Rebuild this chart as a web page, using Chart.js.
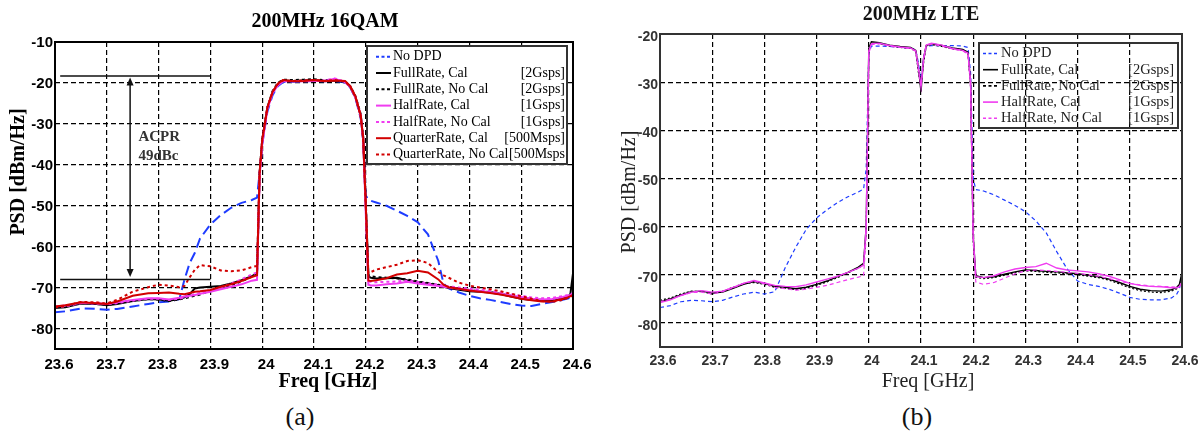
<!DOCTYPE html>
<html>
<head>
<meta charset="utf-8">
<script src="https://cdn.jsdelivr.net/npm/chart.js@4.4.0/dist/chart.umd.min.js"></script>
<style>
  body { margin: 0; background: #fff; width: 1203px; height: 441px; position: relative; overflow: hidden; }
  canvas { position: absolute; top: 0; }
  #chartA { left: 0; }
  #chartB { left: 600px; }
  .cap { position: absolute; top: 402px; width: 100px; text-align: center; font: 26px "Liberation Serif", serif; color: #111; }
</style>
</head>
<body>
<canvas id="chartA" width="600" height="400"></canvas>
<canvas id="chartB" width="603" height="400"></canvas>
<div class="cap" style="left:250px">(a)</div>
<div class="cap" style="left:867px">(b)</div>
<script>
// axes
const freqTicks = [23.6, 23.7, 23.8, 23.9, 24.0, 24.1, 24.2, 24.3, 24.4, 24.5, 24.6];
const freqTickLabels = ['23.6', '23.7', '23.8', '23.9', '24', '24.1', '24.2', '24.3', '24.4', '24.5', '24.6'];
const psdTicksA = [-80, -70, -60, -50, -40, -30, -20, -10];
const psdTicksB = [-80, -70, -60, -50, -40, -30, -20];

// (a) 200MHz 16QAM
const freqA = [
  23.60, 23.62, 23.65, 23.68, 23.70, 23.72, 23.75, 23.78, 23.80, 23.82,
  23.84, 23.85, 23.86, 23.87, 23.88, 23.90, 23.92, 23.94, 23.96, 23.98,
  23.99, 23.995, 24.00, 24.01, 24.02, 24.03, 24.04, 24.06, 24.08, 24.10,
  24.12, 24.14, 24.16, 24.17, 24.18, 24.19, 24.195, 24.20, 24.205, 24.21,
  24.22, 24.24, 24.26, 24.28, 24.30, 24.32, 24.34, 24.35, 24.36, 24.38,
  24.40, 24.42, 24.44, 24.46, 24.48, 24.50, 24.52, 24.54, 24.56, 24.58,
  24.59, 24.595, 24.60];
const noDpdA = [
  -76.0, -75.8, -75.1, -75.2, -75.4, -75.2, -74.6, -74.0, -73.6, -73.4,
  -72.8, -68.0, -64.0, -61.5, -58.0, -54.6, -52.3, -50.5, -49.3, -48.6,
  -48.0, -42.0, -35.0, -27.0, -23.0, -20.8, -19.8, -19.7, -19.6, -19.5,
  -19.6, -19.5, -19.9, -21.1, -23.7, -28.5, -34.0, -47.5, -48.5, -48.8,
  -49.2, -50.0, -51.2, -52.5, -54.0, -57.0, -63.5, -69.0, -70.2, -71.2,
  -72.0, -72.6, -73.0, -73.5, -74.0, -74.4, -74.5, -74.0, -73.5, -73.0,
  -72.7, -72.5, -72.4];
const fullCalA = [
  -75.0, -74.8, -73.9, -74.0, -74.3, -74.0, -73.3, -72.8, -72.9, -73.2,
  -72.8, -72.4, -71.6, -70.2, -70.0, -69.8, -69.6, -69.0, -68.2, -67.2,
  -66.6, -42.0, -34.0, -26.0, -22.3, -20.4, -19.4, -19.5, -19.4, -19.3,
  -19.5, -19.4, -19.8, -21.0, -23.5, -28.0, -34.0, -50.0, -67.3, -67.6,
  -67.8, -67.7, -67.6, -68.2, -68.6, -69.0, -69.4, -69.8, -70.1, -70.5,
  -70.9, -71.0, -71.2, -71.6, -72.2, -72.7, -73.0, -73.1, -73.2, -72.8,
  -72.4, -71.5, -66.5];
const fullNoCalA = [
  -74.7, -74.5, -73.8, -74.0, -74.2, -73.9, -73.3, -72.8, -72.9, -73.3,
  -72.9, -72.6, -72.3, -72.0, -71.7, -70.8, -70.2, -69.4, -68.5, -67.3,
  -66.5, -42.0, -34.0, -26.0, -22.0, -20.0, -19.2, -19.3, -19.2, -19.1,
  -19.3, -19.3, -19.7, -20.8, -23.2, -27.5, -33.0, -49.0, -67.0, -67.2,
  -67.4, -67.6, -67.8, -68.0, -68.5, -68.9, -69.3, -69.5, -69.8, -70.2,
  -70.6, -70.9, -71.1, -71.5, -72.0, -72.5, -72.8, -73.0, -73.0, -72.7,
  -72.3, -72.0, -71.8];
const halfCalA = [
  -74.6, -74.4, -73.7, -73.8, -74.0, -73.6, -73.0, -72.6, -72.6, -72.9,
  -72.5, -72.2, -72.0, -71.8, -71.5, -71.0, -70.4, -69.8, -69.2, -68.3,
  -68.1, -43.0, -35.0, -26.5, -22.5, -20.6, -19.6, -19.6, -19.6, -19.5,
  -19.5, -19.0, -19.8, -21.0, -23.6, -28.0, -34.0, -52.0, -69.3, -69.5,
  -69.5, -69.2, -69.0, -68.6, -69.0, -69.3, -69.6, -69.8, -70.0, -70.3,
  -70.6, -70.9, -71.2, -71.5, -71.9, -72.3, -72.7, -72.9, -72.8, -72.3,
  -72.0, -71.8, -71.6];
const halfNoCalA = [
  -74.8, -74.6, -73.8, -73.9, -74.1, -73.8, -73.2, -72.7, -72.7, -73.0,
  -72.7, -72.4, -72.0, -71.6, -71.3, -70.8, -70.0, -69.0, -68.0, -66.8,
  -66.3, -42.0, -34.0, -26.0, -22.2, -20.3, -19.5, -19.5, -19.5, -19.4,
  -19.4, -18.9, -19.7, -20.9, -23.4, -27.8, -33.5, -50.0, -68.5, -68.6,
  -68.7, -68.6, -68.5, -68.3, -68.6, -69.0, -69.3, -69.5, -69.7, -70.0,
  -70.2, -70.5, -70.8, -71.2, -71.6, -72.0, -72.4, -72.6, -72.5, -72.1,
  -71.8, -71.6, -71.4];
const quarterCalA = [
  -74.6, -74.3, -73.6, -73.8, -74.0, -73.4, -72.0, -71.4, -71.3, -71.2,
  -71.5, -71.6, -71.3, -71.0, -70.9, -70.6, -69.8, -69.2, -68.4, -67.4,
  -67.0, -42.0, -34.0, -26.0, -22.2, -20.2, -19.3, -19.6, -19.5, -19.3,
  -19.6, -19.4, -19.5, -20.8, -23.3, -27.8, -33.5, -50.0, -68.3, -68.4,
  -68.2, -67.7, -66.8, -66.5, -65.9, -66.3, -68.0, -69.3, -69.9, -70.3,
  -70.7, -71.0, -71.3, -71.7, -72.2, -72.7, -73.1, -73.4, -73.4, -72.8,
  -72.4, -72.1, -71.8];
const quarterNoCalA = [
  -74.8, -74.5, -73.5, -73.6, -73.9, -73.0, -71.0, -69.9, -69.3, -69.5,
  -69.9, -69.6, -67.5, -65.6, -64.5, -64.8, -65.8, -66.0, -65.8, -65.0,
  -64.7, -42.0, -34.0, -26.0, -22.2, -20.3, -19.4, -19.5, -19.4, -19.3,
  -19.5, -19.3, -19.6, -20.9, -23.4, -28.0, -33.5, -50.0, -66.5, -66.2,
  -65.6, -65.0, -64.4, -63.5, -63.3, -64.0, -66.2, -67.0, -67.6, -68.8,
  -69.5, -70.0, -70.4, -70.9, -71.5, -72.1, -72.7, -73.3, -73.5, -73.0,
  -72.5, -72.2, -71.9];
const legendNamesA = ['No DPD', 'FullRate, Cal', 'FullRate, No Cal', 'HalfRate, Cal', 'HalfRate, No Cal', 'QuarterRate, Cal', 'QuarterRate, No Cal'];
const legendRatesA = ['', '[2Gsps]', '[2Gsps]', '[1Gsps]', '[1Gsps]', '[500Msps]', '[500Msps'];
// ACPR marker: levels in dBm/Hz, span in GHz
const acprLevels = [-18.3, -68.0];
const acprSpan = [23.61, 23.90];
const acprArrowFreq = 23.745;

// (b) 200MHz LTE
const freqB = [
  23.60, 23.62, 23.64, 23.66, 23.68, 23.70, 23.72, 23.74, 23.76, 23.78,
  23.80, 23.82, 23.84, 23.86, 23.88, 23.90, 23.92, 23.94, 23.96, 23.98,
  23.99, 23.995, 24.00, 24.005, 24.02, 24.04, 24.06, 24.08, 24.09, 24.095,
  24.10, 24.105, 24.11, 24.12, 24.14, 24.16, 24.18, 24.19, 24.195, 24.20,
  24.205, 24.22, 24.24, 24.26, 24.28, 24.30, 24.32, 24.34, 24.36, 24.38,
  24.40, 24.42, 24.44, 24.46, 24.48, 24.50, 24.52, 24.54, 24.56, 24.58,
  24.59, 24.595, 24.60];
const noDpdB = [
  -76.8, -76.4, -75.6, -75.3, -75.4, -75.6, -75.3, -74.6, -74.0, -73.6,
  -74.0, -73.5, -68.5, -64.3, -60.6, -58.2, -56.5, -55.0, -53.8, -52.8,
  -52.2, -48.0, -24.0, -22.5, -22.5, -22.6, -22.8, -22.9, -23.3, -26.0,
  -30.0, -25.0, -22.6, -22.4, -22.4, -22.4, -22.5, -22.8, -28.0, -50.0,
  -52.3, -52.6, -53.4, -54.5, -55.6, -56.9, -58.8, -61.3, -65.2, -68.8,
  -71.3, -72.0, -72.4, -73.0, -73.8, -74.7, -75.1, -75.2, -75.2, -74.8,
  -74.0, -73.0, -70.0];
const fullCalB = [
  -75.6, -75.0, -74.2, -73.5, -73.4, -73.8, -73.6, -72.8, -72.0, -71.4,
  -71.8, -72.4, -72.6, -72.9, -72.6, -72.0, -71.3, -70.4, -69.5, -68.4,
  -67.6, -60.0, -23.0, -21.6, -21.8, -22.3, -22.6, -22.8, -23.4, -27.0,
  -32.0, -25.0, -22.4, -22.0, -22.4, -22.9, -23.2, -23.8, -30.0, -62.0,
  -70.2, -70.6, -70.4, -69.9, -69.4, -69.0, -69.1, -69.3, -69.4, -69.6,
  -69.8, -70.1, -70.4, -70.9, -71.6, -72.4, -73.0, -73.3, -73.4, -73.1,
  -72.6, -72.0, -69.5];
const fullNoCalB = [
  -75.3, -74.8, -74.0, -73.4, -73.5, -74.0, -73.4, -72.6, -71.8, -71.6,
  -72.0, -72.6, -72.8, -73.1, -72.8, -72.2, -71.5, -70.6, -69.6, -68.6,
  -67.8, -61.0, -23.3, -21.9, -22.0, -22.5, -22.8, -23.0, -23.6, -28.0,
  -31.0, -26.0, -22.6, -22.2, -22.6, -23.1, -23.4, -24.0, -31.0, -63.0,
  -70.5, -70.8, -70.6, -70.1, -69.6, -69.2, -69.3, -69.5, -69.6, -69.8,
  -70.0, -70.3, -70.6, -71.1, -71.9, -72.7, -73.3, -73.6, -73.7, -73.4,
  -72.9, -72.3, -70.0];
const halfCalB = [
  -75.8, -75.2, -74.3, -73.6, -73.3, -73.6, -73.4, -72.6, -71.8, -71.2,
  -71.7, -72.2, -72.4, -72.5, -72.1, -71.5, -70.9, -70.3, -69.5, -68.6,
  -68.0, -60.0, -23.5, -22.0, -21.9, -22.4, -22.7, -22.9, -23.5, -27.0,
  -31.0, -25.0, -22.3, -21.9, -22.3, -23.0, -23.4, -24.0, -30.0, -62.0,
  -70.4, -70.6, -70.2, -69.4, -68.8, -68.5, -68.3, -67.6, -68.6, -69.0,
  -69.2, -69.4, -69.8, -70.3, -71.0, -71.8, -72.2, -72.4, -72.5, -72.7,
  -72.7, -72.5, -71.5];
const halfNoCalB = [
  -75.6, -75.1, -74.3, -73.7, -73.6, -74.0, -73.5, -72.7, -71.8, -71.3,
  -71.9, -72.6, -72.9, -73.2, -73.0, -72.6, -72.2, -71.6, -71.0, -70.5,
  -70.2, -62.0, -24.0, -22.2, -22.0, -22.5, -22.8, -23.0, -23.6, -27.5,
  -31.0, -25.5, -22.5, -22.1, -22.5, -23.1, -23.5, -24.2, -31.0, -63.0,
  -71.5, -72.0, -71.6, -70.7, -69.8, -69.2, -69.0, -69.1, -69.3, -69.5,
  -69.7, -70.0, -70.3, -70.8, -71.3, -71.8, -72.1, -72.3, -72.4, -72.5,
  -72.6, -72.4, -71.5];
const legendNamesB = ['No DPD', 'FullRate, Cal', 'FullRate, No Cal', 'HalfRate, Cal', 'HalfRate, No Cal'];
const legendRatesB = ['', '[2Gsps]', '[2Gsps]', '[1Gsps]', '[1Gsps]'];

const SERIF = '"Liberation Serif", "Times New Roman", serif';
const SANS = '"Liberation Sans", Arial, sans-serif';
const BLUE = 'rgb(30,60,255)';
const MAGENTA = 'rgb(240,60,240)';
const RED = 'rgb(210,0,0)';

function lineSet(label, freq, vals, color, width, dash, order) {
  return {
    label: label,
    data: freq.map((f, i) => ({ x: f, y: vals[i] })),
    borderColor: color,
    borderWidth: width,
    borderDash: dash,
    pointRadius: 0,
    tension: 0,
    fill: false,
    order: order
  };
}

function makeScales(yTicks, yMin, yMax, yWidth, xHeight, font, color, xPad, xOff, yOff) {
  return {
    x: {
      type: 'linear',
      min: 23.6,
      max: 24.6,
      afterBuildTicks: (scale) => { scale.ticks = freqTicks.map(v => ({ value: v })); },
      afterFit: (scale) => { scale.height = xHeight; },
      ticks: {
        autoSkip: false,
        maxRotation: 0,
        padding: xPad,
        labelOffset: xOff,
        color: color,
        font: font,
        callback: (value, index) => freqTickLabels[index]
      },
      grid: { color: '#000', lineWidth: 1.2, drawTicks: false },
      border: { display: false, dash: [5, 3] }
    },
    y: {
      type: 'linear',
      min: yMin,
      max: yMax,
      afterBuildTicks: (scale) => { scale.ticks = yTicks.map(v => ({ value: v })); },
      afterFit: (scale) => { scale.width = yWidth; },
      ticks: { padding: 2, labelOffset: yOff, color: color, font: font },
      grid: { color: '#000', lineWidth: 1.2, drawTicks: false },
      border: { display: false, dash: [5, 3] }
    }
  };
}

function drawLegend(chart, box, names, rates, o) {
  const ctx = chart.ctx;
  ctx.save();
  if (o.fill) {
    ctx.fillStyle = '#fff';
    ctx.fillRect(box[0], box[1], box[2] - box[0], box[3] - box[1]);
  }
  ctx.strokeStyle = o.border;
  ctx.lineWidth = 2;
  ctx.strokeRect(box[0], box[1], box[2] - box[0], box[3] - box[1]);
  ctx.font = o.font + 'px ' + SERIF;
  ctx.textBaseline = 'middle';
  chart.data.datasets.forEach((ds, i) => {
    const y = o.rowY + i * o.rowH;
    ctx.strokeStyle = ds.borderColor;
    ctx.lineWidth = o.lw;
    ctx.setLineDash(ds.borderDash.length ? [3, 2.5] : []);
    ctx.beginPath();
    ctx.moveTo(o.x0, y);
    ctx.lineTo(o.x1, y);
    ctx.stroke();
    ctx.setLineDash([]);
    ctx.fillStyle = o.text;
    ctx.textAlign = 'left';
    ctx.fillText(names[i], o.textX, y);
    ctx.textAlign = 'right';
    ctx.fillText(rates[i], o.rateX, y);
  });
  ctx.restore();
}

function arrowHead(ctx, x, y, dir) {
  ctx.beginPath();
  ctx.moveTo(x, y);
  ctx.lineTo(x - 3.5, y + dir * 8);
  ctx.lineTo(x + 3.5, y + dir * 8);
  ctx.closePath();
  ctx.fill();
}

function text(ctx, str, x, y, font, color, rot) {
  ctx.save();
  ctx.translate(x, y);
  if (rot) ctx.rotate(rot);
  ctx.font = font;
  ctx.fillStyle = color;
  ctx.textAlign = 'center';
  ctx.textBaseline = 'middle';
  ctx.fillText(str, 0, 0);
  ctx.restore();
}

const extrasA = {
  id: 'extrasA',
  afterDatasetsDraw(chart) {
    const { ctx, chartArea: a, scales: { x, y } } = chart;
    ctx.save();
    // ACPR marker
    ctx.strokeStyle = '#111';
    ctx.fillStyle = '#111';
    ctx.lineWidth = 1.5;
    acprLevels.forEach(lv => {
      const py = y.getPixelForValue(lv);
      ctx.beginPath();
      ctx.moveTo(x.getPixelForValue(acprSpan[0]), py);
      ctx.lineTo(x.getPixelForValue(acprSpan[1]), py);
      ctx.stroke();
    });
    const ax = x.getPixelForValue(acprArrowFreq);
    const y0 = y.getPixelForValue(acprLevels[0]) + 1.5;
    const y1 = y.getPixelForValue(acprLevels[1]) - 2.5;
    ctx.beginPath();
    ctx.moveTo(ax, y0 + 4);
    ctx.lineTo(ax, y1 - 4);
    ctx.stroke();
    arrowHead(ctx, ax, y0, 1);
    arrowHead(ctx, ax, y1, -1);
    ctx.font = 'bold 15px ' + SERIF;
    ctx.fillStyle = '#333';
    ctx.textAlign = 'left';
    ctx.textBaseline = 'middle';
    ctx.fillText('ACPR', x.getPixelForValue(23.761), y.getPixelForValue(-33.2));
    ctx.fillText('49dBc', x.getPixelForValue(23.761), y.getPixelForValue(-37.8));
    // frame
    ctx.strokeStyle = '#000';
    ctx.lineWidth = 2;
    ctx.strokeRect(a.left, a.top, a.right - a.left, a.bottom - a.top);
    ctx.restore();

    drawLegend(chart, [367, 46, 567, 164], legendNamesA, legendRatesA, {
      fill: true, border: '#333', rowY: 56.7, rowH: 16.3, x0: 376, x1: 391, lw: 2,
      textX: 393, rateX: 565, text: '#000', font: 14
    });

    text(ctx, '200MHz 16QAM', 325, 22, 'bold 20px ' + SERIF, '#000');
    text(ctx, 'Freq [GHz]', 328, 382, 'bold 20px ' + SERIF, '#000');
    text(ctx, 'PSD [dBm/Hz]', 19, 172, 'bold 20px ' + SERIF, '#000', -Math.PI / 2);
  }
};

const extrasB = {
  id: 'extrasB',
  afterDatasetsDraw(chart) {
    const { ctx, chartArea: a } = chart;
    ctx.save();
    ctx.strokeStyle = '#333';
    ctx.lineWidth = 2;
    ctx.strokeRect(a.left, a.top, a.right - a.left, a.bottom - a.top);
    ctx.restore();

    drawLegend(chart, [379, 43, 578, 128], legendNamesB, legendRatesB, {
      fill: false, border: '#333', rowY: 53.5, rowH: 16.2, x0: 383, x1: 398, lw: 1.6,
      textX: 401, rateX: 574, text: '#222', font: 14.5
    });

    text(ctx, '200MHz LTE', 321, 15, 'bold 20px ' + SERIF, '#111');
    text(ctx, 'Freq [GHz]', 328, 382, '20px ' + SERIF, '#222');
    text(ctx, 'PSD [dBm/Hz]', 30, 192, '20px ' + SERIF, '#222', -Math.PI / 2);
  }
};

const setsA = [
  lineSet('No DPD', freqA, noDpdA, BLUE, 2, [10, 5], 6),
  lineSet('FullRate, Cal', freqA, fullCalA, '#000', 2, [], 5),
  lineSet('FullRate, No Cal', freqA, fullNoCalA, '#000', 2, [3, 3], 4),
  lineSet('HalfRate, Cal', freqA, halfCalA, MAGENTA, 2, [], 3),
  lineSet('HalfRate, No Cal', freqA, halfNoCalA, MAGENTA, 2, [3, 3], 2),
  lineSet('QuarterRate, Cal', freqA, quarterCalA, RED, 2, [], 1),
  lineSet('QuarterRate, No Cal', freqA, quarterNoCalA, RED, 2, [3, 3], 0)
];

const setsB = [
  lineSet('No DPD', freqB, noDpdB, BLUE, 1.2, [4, 3], 4),
  lineSet('FullRate, Cal', freqB, fullCalB, '#000', 1.4, [], 3),
  lineSet('FullRate, No Cal', freqB, fullNoCalB, '#000', 1.2, [2, 2], 2),
  lineSet('HalfRate, Cal', freqB, halfCalB, MAGENTA, 1.4, [], 1),
  lineSet('HalfRate, No Cal', freqB, halfNoCalB, MAGENTA, 1.2, [4, 3], 0)
];

new Chart(document.getElementById('chartA'), {
  type: 'line',
  data: { datasets: setsA },
  options: {
    responsive: false,
    animation: false,
    devicePixelRatio: 1,
    layout: { padding: { left: 0, right: 27, top: 42, bottom: 0 } },
    scales: makeScales(psdTicksA, -85, -10, 55, 51, { family: SANS, size: 15, weight: 'bold' }, '#000', 7, 4, 1),
    plugins: { legend: { display: false }, tooltip: { enabled: false } }
  },
  plugins: [extrasA]
});

new Chart(document.getElementById('chartB'), {
  type: 'line',
  data: { datasets: setsB },
  options: {
    responsive: false,
    animation: false,
    devicePixelRatio: 1,
    layout: { padding: { left: 0, right: 21, top: 34, bottom: 0 } },
    scales: makeScales(psdTicksB, -85, -20, 60, 53, { family: SANS, size: 14, weight: 'bold' }, '#333', 6, 3, 3),
    plugins: { legend: { display: false }, tooltip: { enabled: false } }
  },
  plugins: [extrasB]
});
</script>
</body>
</html>
